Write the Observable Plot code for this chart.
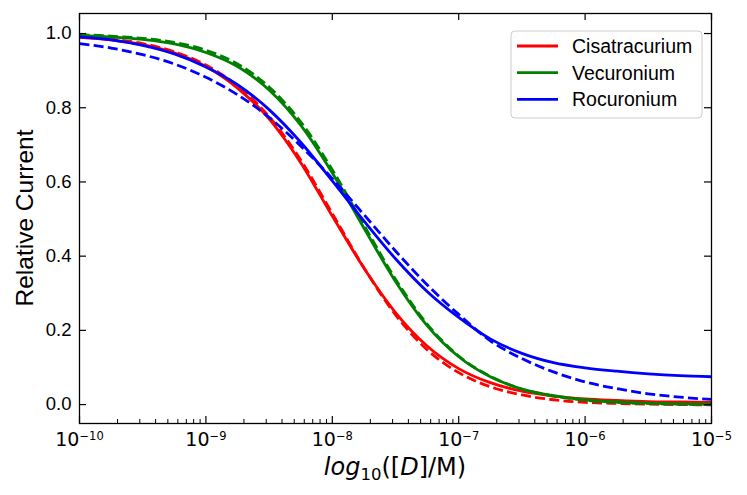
<!DOCTYPE html>
<html>
<head>
<meta charset="utf-8">
<script src="https://cdn.jsdelivr.net/npm/d3@7"></script>
<script src="https://cdn.jsdelivr.net/npm/@observablehq/plot@0.6"></script>
<style>
  html, body { margin: 0; padding: 0; background: #fff; }
  #chart { width: 747px; height: 495px; }
</style>
</head>
<body>
<div id="chart"></div>
<script>
// ---- data ----
const drugs = ["Cisatracurium", "Vecuronium", "Rocuronium"];
// log10 of concentration (M) at which curves were read
const logConc = [-10, -9.75, -9.5, -9.25, -9, -8.75, -8.5, -8.25, -8, -7.75, -7.5, -7.25, -7, -6.75, -6.5, -6.25, -6, -5.75, -5.5, -5.25, -5];
// solid curves
const cisSolid = [0.990, 0.983, 0.970, 0.948, 0.911, 0.853, 0.770, 0.652, 0.508, 0.368, 0.248, 0.158, 0.097, 0.059, 0.036, 0.023, 0.015, 0.011, 0.008, 0.007, 0.006];
const vecSolid = [0.995, 0.991, 0.984, 0.972, 0.949, 0.911, 0.848, 0.753, 0.624, 0.476, 0.332, 0.213, 0.129, 0.075, 0.042, 0.024, 0.013, 0.007, 0.004, 0.002, 0.001];
const rocSolid = [0.991, 0.983, 0.968, 0.945, 0.910, 0.862, 0.795, 0.707, 0.603, 0.495, 0.393, 0.305, 0.235, 0.177, 0.138, 0.113, 0.099, 0.090, 0.083, 0.078, 0.075];
// dashed curves
const cisDashed = [0.992, 0.985, 0.973, 0.951, 0.915, 0.859, 0.776, 0.659, 0.515, 0.369, 0.242, 0.148, 0.086, 0.048, 0.026, 0.013, 0.006, 0.003, 0.001, 0.000, -0.001];
const vecDashed = [0.997, 0.993, 0.987, 0.976, 0.955, 0.918, 0.856, 0.762, 0.633, 0.484, 0.338, 0.217, 0.131, 0.076, 0.042, 0.023, 0.012, 0.006, 0.003, 0.001, 0.000];
const rocDashed = [0.973, 0.961, 0.943, 0.918, 0.882, 0.835, 0.774, 0.697, 0.609, 0.512, 0.414, 0.323, 0.243, 0.172, 0.124, 0.088, 0.061, 0.043, 0.029, 0.020, 0.014];
// axis ticks
const xTickExponents = [-10, -9, -8, -7, -6, -5];
const minorMultipliers = [2, 3, 4, 5, 6, 7, 8, 9];
const yTicks = [0.0, 0.2, 0.4, 0.6, 0.8, 1.0];
const xLabelParts = ["log", "10", "([", "D", "]/M)"];
const yLabel = "Relative Current";

// ---- styles ----
const colors = { Cisatracurium: "#ff0000", Vecuronium: "#008000", Rocuronium: "#0000ff" };
const W = 747, H = 495, mL = 79, mR = 36, mT = 13, mB = 72;
const plotW = W - mL - mR, plotH = H - mT - mB;
const LW = 2.8, DASH = "10,4.3";

const seriesList = [
  { drug: "Cisatracurium", dashed: false, values: cisSolid },
  { drug: "Cisatracurium", dashed: true, values: cisDashed },
  { drug: "Vecuronium", dashed: false, values: vecSolid },
  { drug: "Vecuronium", dashed: true, values: vecDashed },
  { drug: "Rocuronium", dashed: false, values: rocSolid },
  { drug: "Rocuronium", dashed: true, values: rocDashed }
];

const majorX = xTickExponents.map(e => Math.pow(10, e));
const minorX = [];
xTickExponents.slice(0, -1).forEach(e => minorMultipliers.forEach(m => minorX.push(m * Math.pow(10, e))));

const lineMarks = seriesList.map(s =>
  Plot.line(
    s.values.map((v, i) => ({ x: Math.pow(10, logConc[i]), y: v })),
    {
      x: "x", y: "y",
      stroke: colors[s.drug],
      strokeWidth: LW,
      strokeDasharray: s.dashed ? DASH : null,
      strokeLinecap: "butt",
      curve: "monotone-x"
    }
  )
);

const svg = Plot.plot({
  width: W, height: H,
  marginLeft: mL, marginRight: mR, marginTop: mT, marginBottom: mB,
  style: { background: "white", color: "black" },
  x: { type: "log", domain: [1e-10, 1e-5], axis: null, label: null },
  y: { domain: [-0.051, 1.054], axis: null, label: null },
  marks: [
    ...lineMarks,
    // inward ticks
    Plot.tickX(majorX, { x: d => d, insetTop: plotH - 7, stroke: "black", strokeWidth: 1.2 }),
    Plot.tickX(minorX, { x: d => d, insetTop: plotH - 4, stroke: "black", strokeWidth: 1 }),
    Plot.tickX(majorX, { x: d => d, insetBottom: plotH - 7, stroke: "black", strokeWidth: 1.2 }),
    Plot.tickY(yTicks, { y: d => d, insetRight: plotW - 7, stroke: "black", strokeWidth: 1.2 }),
    Plot.tickY(yTicks, { y: d => d, insetLeft: plotW - 7, stroke: "black", strokeWidth: 1.2 }),
    Plot.frame({ stroke: "black", strokeWidth: 1.3 }),
    Plot.axisX(majorX, {
      anchor: "bottom", tickSize: 0, tickPadding: 8.5, label: null,
      tickFormat: d => String(Math.round(Math.log10(d))),
      fontSize: 19, fontFamily: "DejaVu Sans"
    }),
    Plot.axisY(yTicks, {
      anchor: "left", tickSize: 0, tickPadding: 8, label: null,
      tickFormat: d => d.toFixed(1),
      fontSize: 18.5, fontFamily: "Liberation Sans"
    })
  ]
});

const root = d3.select(svg);

// superscript exponents for x tick labels
root.selectAll('g[aria-label="x-axis tick label"] text').each(function () {
  const t = d3.select(this);
  const e = parseInt(t.text(), 10);
  t.text(null).attr("font-family", "DejaVu Sans").attr("font-size", 19);
  t.append("tspan").text("10");
  t.append("tspan").attr("font-size", 11.5).attr("dy", -5.5).text((e < 0 ? "\u2212" : "") + Math.abs(e));
});
root.selectAll('g[aria-label="y-axis tick label"] text')
  .attr("font-family", "Liberation Sans").attr("font-size", 18.5);

// y axis label
root.append("text")
  .attr("x", 33).attr("y", mT + plotH / 2)
  .attr("transform", `rotate(-90, 33, ${mT + plotH / 2})`)
  .attr("text-anchor", "middle")
  .attr("font-family", "Liberation Sans")
  .attr("font-size", 24.5)
  .attr("fill", "black")
  .text(yLabel);

// x axis label (mathtext style)
const xl = root.append("text")
  .attr("x", mL + plotW / 2).attr("y", 475)
  .attr("text-anchor", "middle")
  .attr("font-family", "DejaVu Sans")
  .attr("font-size", 24)
  .attr("fill", "black");
xl.append("tspan").attr("font-style", "italic").text(xLabelParts[0]);
xl.append("tspan").attr("font-size", 16.5).attr("dy", 5).text(xLabelParts[1]);
xl.append("tspan").attr("dy", -5).text(xLabelParts[2]);
xl.append("tspan").attr("font-style", "italic").text(xLabelParts[3]);
xl.append("tspan").text(xLabelParts[4]);

// legend
const lg = root.append("g").attr("class", "legend");
lg.append("rect")
  .attr("x", 511).attr("y", 31).attr("width", 191).attr("height", 87)
  .attr("rx", 4).attr("ry", 4)
  .attr("fill", "white").attr("fill-opacity", 0.8)
  .attr("stroke", "#cccccc").attr("stroke-width", 1);
drugs.forEach((name, i) => {
  const y = 46 + i * 26.7;
  lg.append("line")
    .attr("x1", 517).attr("x2", 558).attr("y1", y).attr("y2", y)
    .attr("stroke", colors[name]).attr("stroke-width", LW);
  lg.append("text")
    .attr("x", 572).attr("y", y + 7)
    .attr("text-anchor", "start")
    .attr("font-family", "Liberation Sans").attr("font-size", 19.5)
    .attr("fill", "black")
    .text(name);
});

document.getElementById("chart").appendChild(svg);
</script>
</body>
</html>
